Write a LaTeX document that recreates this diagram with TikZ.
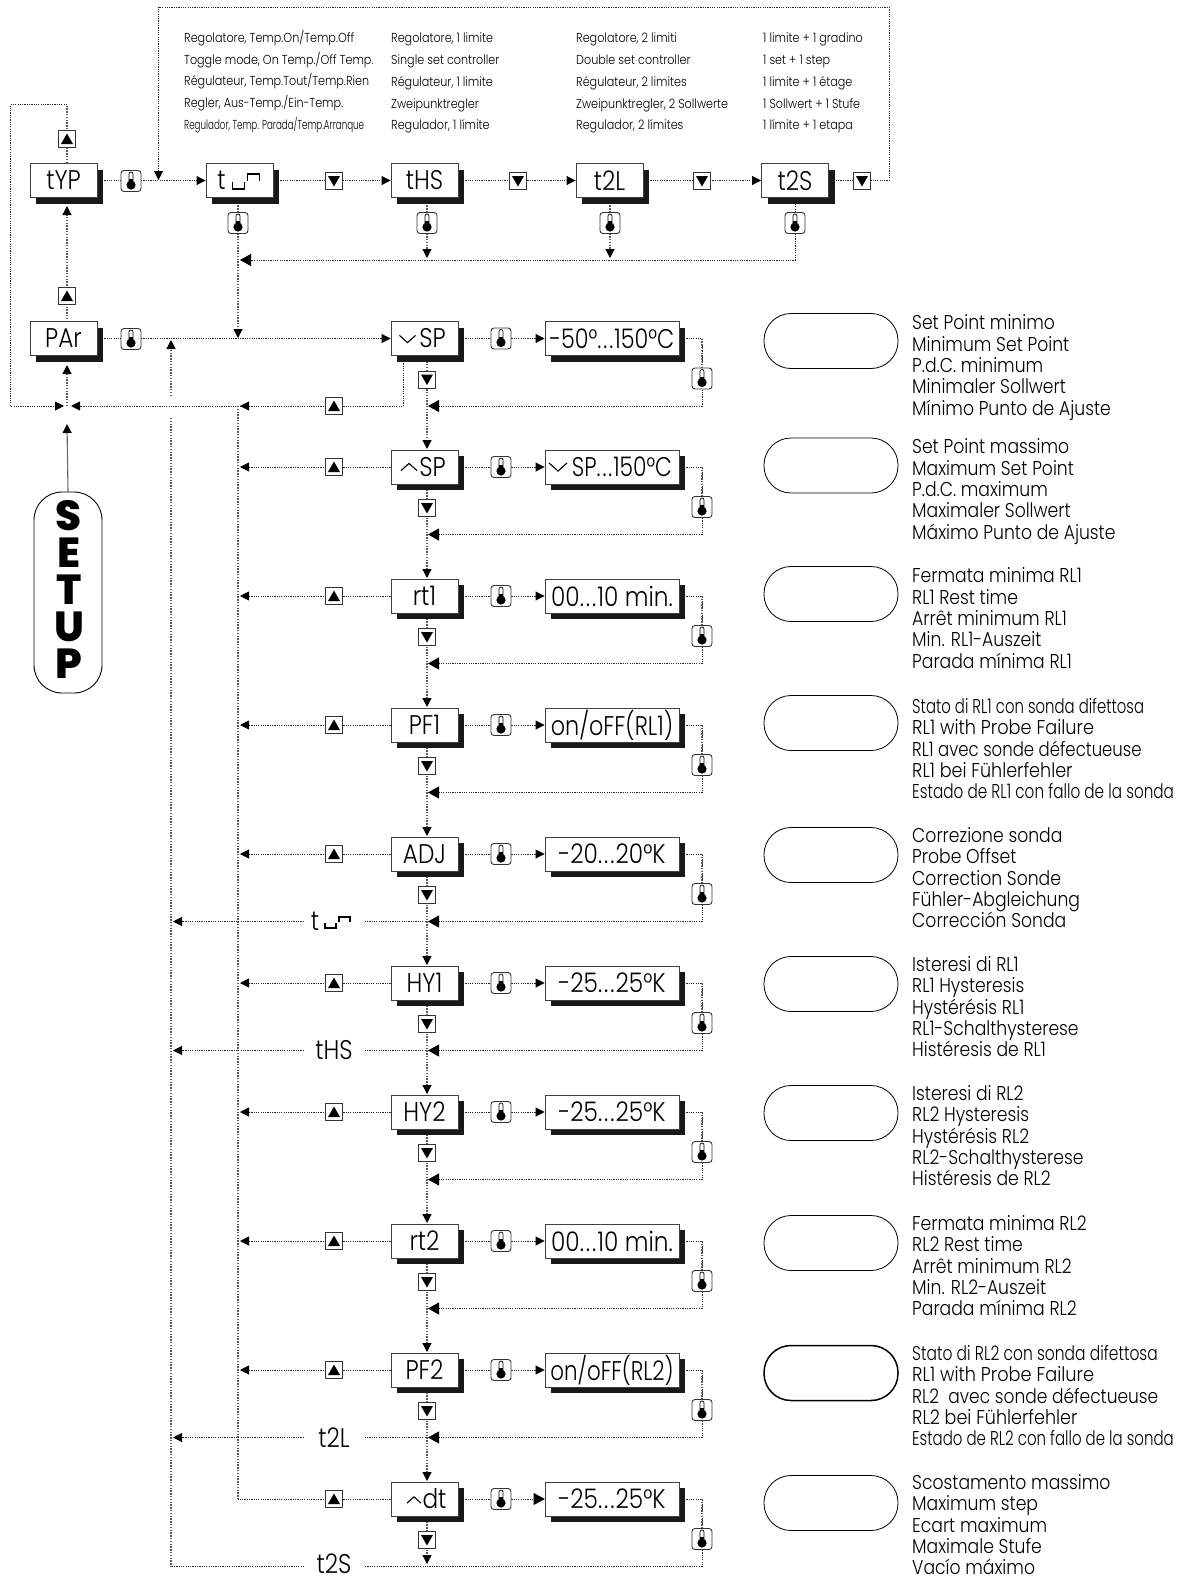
\documentclass[tikz,border=0pt]{standalone}
\usepackage{fontspec}
\usepackage{graphicx}
\setmainfont{Poppins Light}[FakeStretch=0.86]
\newfontfamily\setupfont{Poppins ExtraBold}
\usetikzlibrary{arrows.meta,backgrounds,shadows,calc}
\def\ovalw{0.8pt}
\newcommand\dd{.\hspace{2pt}.\hspace{2pt}.\hspace{1pt}}
\tikzset{
  x=1pt,y=-1pt,
  dotline/.style={line width=0.9pt,dash pattern=on 1.2pt off 1.1pt,draw=black!85},
  vdotline/.style={line width=1.2pt,dash pattern=on 1.4pt off 1.4pt,draw=black!65},
  tip/.style={-{Triangle[length=9pt,width=9pt,black]}},
  bigtip/.style={-{Triangle[length=11pt,width=12pt,black]}},
  lcd/.style={draw=black!75,line width=0.9pt,fill=white,minimum width=67pt,minimum height=34pt,inner sep=0pt,font=\fontsize{27}{27}\selectfont,
     general shadow={shadow xshift=6pt,shadow yshift=-6pt,fill=black!90,draw=none,opacity=1}},
  lcdv/.style={lcd,minimum width=134pt},
  btn/.style={draw=black!80,line width=1pt,fill=white,minimum size=17pt,inner sep=0pt},
  thm/.style={draw=black!80,line width=0.9pt,fill=white,rounded corners=3pt,minimum width=20pt,minimum height=21pt,inner sep=0pt},
  ovalbox/.style={draw=black,line width=\ovalw,rounded corners=27pt,minimum width=134pt,minimum height=55pt,inner sep=0pt},
  desc/.style={anchor=north west,inner sep=0pt,align=left,font=\fontsize{20}{21.4}\selectfont},
  toptext/.style={anchor=north west,inner sep=0pt,align=left,font=\fontsize{13}{21.7}\selectfont},
  gaplabel/.style={inner sep=0pt,minimum width=60pt,minimum height=20pt,font=\fontsize{27}{27}\selectfont},
}
\newcommand\sx[2]{\scalebox{#1}[1]{#2}}
\newcommand\btnup[3]{\node[btn] (#1) at (#2,#3) {};
  \fill ([yshift=5.5pt]#1.center) -- ([shift={(-6pt,-5pt)}]#1.center) -- ([shift={(6pt,-5pt)}]#1.center) -- cycle;}
\newcommand\btndn[3]{\node[btn] (#1) at (#2,#3) {};
  \fill ([yshift=-5.5pt]#1.center) -- ([shift={(-6pt,5pt)}]#1.center) -- ([shift={(6pt,5pt)}]#1.center) -- cycle;}
\newcommand\thermo[3]{\node[thm] (#1) at (#2,#3) {};
  \draw[black,line width=0.7pt,fill=white] ([shift={(-2pt,0pt)}]#1.center) -- ([shift={(-2pt,7pt)}]#1.center) arc (180:0:2pt) -- ([shift={(2pt,0pt)}]#1.center) -- cycle;
  \fill[black] ([yshift=-4pt]#1.center) circle (4.6pt);
  \fill[black] ([shift={(-1.6pt,-2pt)}]#1.center) rectangle ([shift={(1.6pt,2pt)}]#1.center);}
\newcommand\chevdn[3]{\draw[black,line width=1.1pt] (#1-#3,#2-0.45*#3) -- (#1,#2+0.45*#3) -- (#1+#3,#2-0.45*#3);}
\newcommand\chevup[3]{\draw[black,line width=1.1pt] (#1-#3,#2+0.45*#3) -- (#1,#2-0.45*#3) -- (#1+#3,#2+0.45*#3);}
\newcommand\stepglyph[4]{%
  \draw[black,line width=1.6pt] (#1,#2) -- (#1,#2+#4) -- (#1+#3,#2+#4) -- (#1+#3,#2);
  \draw[black,line width=1.6pt] (#1+#3+3,#2-1) -- (#1+#3+3,#2-#4-1) -- (#1+2*#3+3,#2-#4-1) -- (#1+2*#3+3,#2-1);}
% row: name, y, label, value, oval y, text y, lines
\newcommand\dorow[7]{%
  \node[lcd] (#1) at (424.5,#2) {#3};
  \node[lcdv] (#1v) at (612,#2) {#4};
  \btndn{#1d}{427}{#2+41}
  \thermo{#1t}{501}{#2}
  \thermo{#1r}{702}{#2+40}
  \node[ovalbox] (#1o) at (831,#5) {};
  \node[desc] (#1x) at (912,#6+2) {#7};
  \coordinate (#1c) at (702,#2);
  \coordinate (#1e) at (702,#2+67.5);
  \coordinate (#1ret) at (428,#2+67.5);
  \coordinate (#1b) at (427,#2+17);
  \coordinate (#1top) at (427,#2-18);
  \coordinate (#1l) at (240,#2);
  \begin{scope}[on background layer]
    \draw[dotline,tip] (#1.east) -- (#1v.west);
    \draw[dotline] (#1v.east) -- (#1c) -- (#1e);
    \draw[vdotline] (#1c) -- (#1r);
  \end{scope}
}
\newcommand\rowleft[1]{\begin{scope}[on background layer]\draw[dotline,tip] (#1.west) -- (#1l);\end{scope}}
\newcommand\rowret[1]{\begin{scope}[on background layer]\draw[dotline,bigtip] (#1e) -- (#1ret);\end{scope}}
\newcommand\rowlink[2]{\begin{scope}[on background layer]\draw[vdotline,tip] (#1b) -- (#2top);\end{scope}}
\begin{document}
\begin{tikzpicture}
\useasboundingbox (0,0) rectangle (1182,1577);
% ---- top row
\node[lcd] (tYP) at (63.5,180.5) {tYP};
\node[lcd] (tOn) at (239.5,180.5) {\hspace{-2pt}t\hspace{34pt}\null};
\stepglyph{232.5}{182}{12}{7}
\node[lcd] (tHS) at (424.5,180.5) {tHS};
\node[lcd] (t2L) at (609.5,180.5) {t2L};
\node[lcd] (t2S) at (795,180.5) {t2S};
\node[lcd] (PAr) at (63.5,338.5) {PAr};
\thermo{th1}{131}{181}
\thermo{th2}{131}{339}
\thermo{th3}{238}{223}
\thermo{th4}{427}{223}
\thermo{th5}{610}{223}
\thermo{th6}{795}{223}
\btndn{dn1}{334}{181}
\btndn{dn2}{518}{181}
\btndn{dn3}{702}{181}
\btndn{dn4}{862}{181}
\btnup{up1}{67}{139}
\btnup{up2}{67}{296}
\coordinate (c890b) at (889,180.5);
\coordinate (c890t) at (889,7);
\coordinate (c158t) at (158.5,7);
\coordinate (c158b) at (158.5,180);
\coordinate (r238) at (238,197);
\coordinate (j238) at (238,338);
\coordinate (r427) at (427,197);
\coordinate (j427) at (427,258);
\coordinate (r610) at (610,197);
\coordinate (j610) at (610,258);
\coordinate (r795) at (795,197);
\coordinate (j795) at (795,260);
\coordinate (j240) at (240,260);
\coordinate (p67t) at (67,322);
\coordinate (p67a) at (67,206);
\coordinate (p67b) at (67,365);
\coordinate (m67) at (67,406);
\coordinate (y67t) at (67,163);
\coordinate (y67u) at (67,104.5);
\coordinate (l10t) at (10.5,104.5);
\coordinate (l10b) at (10.5,406);
\coordinate (l64) at (64,406);
\coordinate (l71) at (71,406);
% ---- rows
\dorow{sa}{338.5}{\hspace{16pt}SP}{\sx{0.96}{-50°\dd 150°C}}{341}{312.5}{Set Point minimo\\Minimum Set Point\\P.d.C. minimum\\Minimaler Sollwert\\Mínimo Punto de Ajuste}
\dorow{sb}{467}{\hspace{16pt}SP}{\hspace{20pt}\sx{0.94}{SP\dd 150°C}}{465.5}{436.5}{Set Point massimo\\Maximum Set Point\\P.d.C. maximum\\Maximaler Sollwert\\Máximo Punto de Ajuste}
\dorow{rta}{596}{rt1}{00\dd 10 min.}{594}{565.5}{Fermata minima RL1\\RL1 Rest time\\Arrêt minimum RL1\\Min. RL1-Auszeit\\Parada mínima RL1}
\dorow{pfa}{725}{PF1}{\sx{0.96}{on/oFF(RL1)}}{723}{696}{\sx{0.865}{Stato di RL1 con sonda difettosa}\\\sx{1.03}{RL1 with Probe Failure}\\\sx{0.96}{RL1 avec sonde défectueuse}\\\sx{1.02}{RL1 bei Fühlerfehler}\\\sx{0.885}{Estado de RL1 con fallo de la sonda}}
\dorow{adj}{854}{ADJ}{-20\dd 20°K}{855}{825}{Correzione sonda\\Probe Offset\\Correction Sonde\\Fühler-Abgleichung\\Corrección Sonda}
\dorow{hya}{983}{HY1}{-25\dd 25°K}{984}{954}{Isteresi di RL1\\RL1 Hysteresis\\Hystérésis RL1\\RL1-Schalthysterese\\Histéresis de RL1}
\dorow{hyb}{1112}{HY2}{-25\dd 25°K}{1113}{1083}{Isteresi di RL2\\RL2 Hysteresis\\Hystérésis RL2\\RL2-Schalthysterese\\Histéresis de RL2}
\dorow{rtb}{1241}{rt2}{00\dd 10 min.}{1243}{1213}{Fermata minima RL2\\RL2 Rest time\\Arrêt minimum RL2\\Min. RL2-Auszeit\\Parada mínima RL2}
\def\ovalw{1.5pt}
\dorow{pfb}{1370}{PF2}{\sx{0.92}{on/oFF(RL2)}}{1373}{1343}{\sx{0.9}{Stato di RL2 con sonda difettosa}\\\sx{1.03}{RL1 with Probe Failure}\\\sx{0.99}{RL2\ \ avec sonde défectueuse}\\\sx{1.02}{RL2 bei Fühlerfehler}\\\sx{0.87}{Estado de RL2 con fallo de la sonda}}
\def\ovalw{0.8pt}
\dorow{dtx}{1499}{\hspace{20pt}dt}{-25\dd 25°K}{1503}{1472}{Scostamento massimo\\Maximum step\\Ecart maximum\\Maximale Stufe\\Vacío máximo}
\btnup{sau}{334}{406}
\btnup{sbu}{334}{467}
\btnup{rtau}{334}{596}
\btnup{pfau}{334}{725}
\btnup{adju}{334}{854}
\btnup{hyau}{334}{983}
\btnup{hybu}{334}{1112}
\btnup{rtbu}{334}{1241}
\btnup{pfbu}{334}{1370}
\btnup{dtxu}{334}{1499}
\chevdn{407.5}{339}{8}
\chevup{409}{467}{8}
\chevdn{558}{467}{9}
\chevup{414}{1500}{7}
% ---- top texts
\node[toptext] (tx1) at (184,30) {Regolatore, Temp.On/Temp.Off\\Toggle mode, On Temp./Off Temp.\\Régulateur, Temp.Tout/Temp.Rien\\Regler, Aus-Temp./Ein-Temp.\\\sx{0.78}{Regulador, Temp. Parada/Temp.Arranque}};
\node[toptext] (tx2) at (391,33) {Regolatore, 1 limite\\Single set controller\\Régulateur, 1 limite\\Zweipunktregler\\Regulador, 1 límite};
\node[toptext] (tx3) at (576,33) {Regolatore, 2 limiti\\Double set controller\\Régulateur, 2 limites\\Zweipunktregler, 2 Sollwerte\\Regulador, 2 límites};
\node[toptext] (tx4) at (763,33) {1 limite + 1 gradino\\1 set + 1 step\\1 limite + 1 étage\\1 Sollwert + 1 Stufe\\1 límite + 1 etapa};
% ---- setup capsule
\node[draw=black,line width=0.9pt,rounded corners=28pt,minimum width=68pt,minimum height=201pt,inner sep=0pt] (setup) at (68,592.5) {};
\node[inner sep=0pt,align=center,font=\setupfont\fontsize{42}{37}\selectfont] (setuptx) at (69,589) {S\\E\\T\\U\\P};
\coordinate (setupa) at (67,424);
% ---- gap labels
\node[gaplabel] (gl1) at (334,921.5) {\hspace{-2pt}t\hspace{36pt}\null};
\stepglyph{325}{923}{11}{5}
\node[gaplabel] (gl2) at (334,1050.5) {tHS};
\node[gaplabel] (gl3) at (334,1437.5) {t2L};
\node[gaplabel] (gl4) at (334,1563.5) {t2S};
\coordinate (gl4e) at (364,1566.5);
\coordinate (gl4w) at (304,1566.5);
\coordinate (ga1) at (173,921.5);
\coordinate (ga2) at (173,1050.5);
\coordinate (ga3) at (173,1437.5);
\coordinate (ga4c) at (171,1566.5);
\coordinate (v171a) at (171,418);
\coordinate (v171b) at (171,396);
\coordinate (v171c) at (171,340);
\coordinate (v238a) at (238,406);
\coordinate (v238b) at (238,1499);
\coordinate (sa403a) at (403,361);
\coordinate (sa403b) at (403,406);
\coordinate (j249) at (249,406);
\coordinate (j240b) at (240,406);
\coordinate (dtend) at (702,1566.5);
\coordinate (dtmid) at (427,1564);
\coordinate (dth) at (532,1499);
\begin{scope}[on background layer]
  \draw[dotline,tip] (tYP.east) -- (tOn.west);
  \draw[dotline,tip] (tOn.east) -- (tHS.west);
  \draw[dotline,tip] (tHS.east) -- (t2L.west);
  \draw[dotline,tip] (t2L.east) -- (t2S.west);
  \draw[dotline,tip] (t2S.east) -- (c890b) -- (c890t) -- (c158t) -- (c158b);
  \draw[vdotline,tip] (r238) -- (j238);
  \draw[vdotline,tip] (r427) -- (j427);
  \draw[vdotline,tip] (r610) -- (j610);
  \draw[dotline,bigtip] (r795) -- (j795) -- (j240);
  \draw[dotline,tip] (PAr.east) -- (sa.west);
  \draw[vdotline,tip] (p67t) -- (p67a);
  \draw[vdotline] (y67t) -- (y67u);
  \draw[dotline,tip] (y67u) -- (l10t) -- (l10b) -- (l64);
  \draw[vdotline,tip] (m67) -- (p67b);
  \draw[dotline,tip] (sa403a) -- (sa403b) -- (l71);
  \draw[dotline,tip] (j249) -- (j240b);
  \draw[vdotline] (v238a) -- (v238b);
  \draw[vdotline,tip] (v171b) -- (v171c);
  \draw[vdotline] (v171a) -- (ga4c);
  \draw[line width=1.1pt,black!60,tip] (setup.north) -- (setupa);
  \draw[dotline] (adjret) -- (gl1.east);
  \draw[dotline,tip] (gl1.west) -- (ga1);
  \draw[dotline,tip] (gl2.west) -- (ga2);
  \draw[dotline,tip] (gl3.west) -- (ga3);
  \draw[dotline] (hyaret) -- (gl2.east);
  \draw[dotline] (pfbret) -- (gl3.east);
  \draw[dotline] (dtend) -- (gl4e);
  \draw[dotline] (gl4w) -- (ga4c);
  \draw[vdotline,tip] (dtxb) -- (dtmid);
  \draw[dotline,bigtip] (dth) -- (dtxv.west);
\end{scope}
\rowleft{sb}\rowleft{rta}\rowleft{pfa}\rowleft{adj}\rowleft{hya}\rowleft{hyb}\rowleft{rtb}\rowleft{pfb}
\begin{scope}[on background layer]\draw[dotline] (dtx.west) -- (v238b);\end{scope}
\rowret{sa}\rowret{sb}\rowret{rta}\rowret{pfa}\rowret{adj}\rowret{hya}\rowret{hyb}\rowret{rtb}\rowret{pfb}
\rowlink{sa}{sb}\rowlink{sb}{rta}\rowlink{rta}{pfa}\rowlink{pfa}{adj}\rowlink{adj}{hya}\rowlink{hya}{hyb}\rowlink{hyb}{rtb}\rowlink{rtb}{pfb}\rowlink{pfb}{dtx}
\end{tikzpicture}
\end{document}
